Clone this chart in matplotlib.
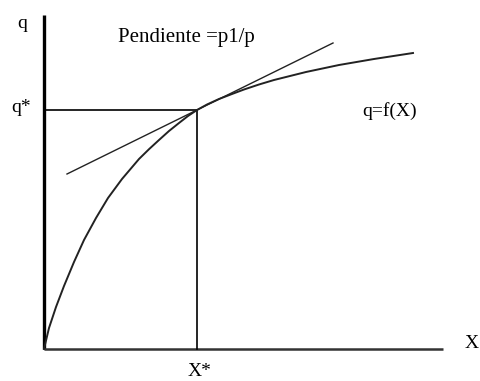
import matplotlib.pyplot as plt

# production function q = f(X), read as (X, q) pairs
curve_x = [0, 5, 12, 20, 30, 40, 52, 64, 78, 95, 105, 115, 125, 135, 144, 153, 163, 175, 188,
           200, 215, 230, 262, 295, 330, 369]
curve_q = [0, 21, 42, 63, 87, 109, 131, 151, 170, 190, 199.8, 209, 218, 226, 233, 239, 244.5, 250, 255,
           259.5, 264.5, 269, 277, 284, 290, 296]

# tangent line at the optimum (slope p1/p)
tan_x = [23, 289]
tan_q = [175, 306]

# optimum point
x_star = 153
q_star = 239

# axis extents
x_max = 399
q_max = 334

plt.rcParams['font.family'] = ['Liberation Serif', 'DejaVu Serif']

fig = plt.figure(figsize=(4.8, 3.81), dpi=100)
ax = fig.add_axes([0, 0, 1, 1])
ax.set_xlim(-44, 436)
ax.set_ylim(-32, 349)
ax.axis('off')

# axes
ax.plot([0, 0], [0, q_max], color='black', lw=2.4, solid_capstyle='butt')
ax.plot([0, x_max], [0, 0], color='#333333', lw=1.8, solid_capstyle='butt')

# guide lines to q* and X*
ax.plot([0, x_star], [q_star, q_star], color='black', lw=1.2)
ax.plot([x_star, x_star], [0, q_star], color='black', lw=1.2)

ax.plot(curve_x, curve_q, color='#222222', lw=1.4)
ax.plot(tan_x, tan_q, color='#222222', lw=1.0)

fs = 14
ax.text(-21.5, 325, "q", fontsize=fs, ha='center', va='center')
ax.text(-22.5, 241, "q*", fontsize=fs, ha='center', va='center')
ax.text(74, 307, "Pendiente =p1/p", fontsize=15, ha='left', va='baseline')
ax.text(318, 238, "q=f(X)", fontsize=fs, ha='left', va='center')
ax.text(x_star + 3, -23, "X*", fontsize=fs, ha='center', va='center')
ax.text(428, 5, "X", fontsize=fs, ha='center', va='center')

fig.savefig("out.png", dpi=100)
